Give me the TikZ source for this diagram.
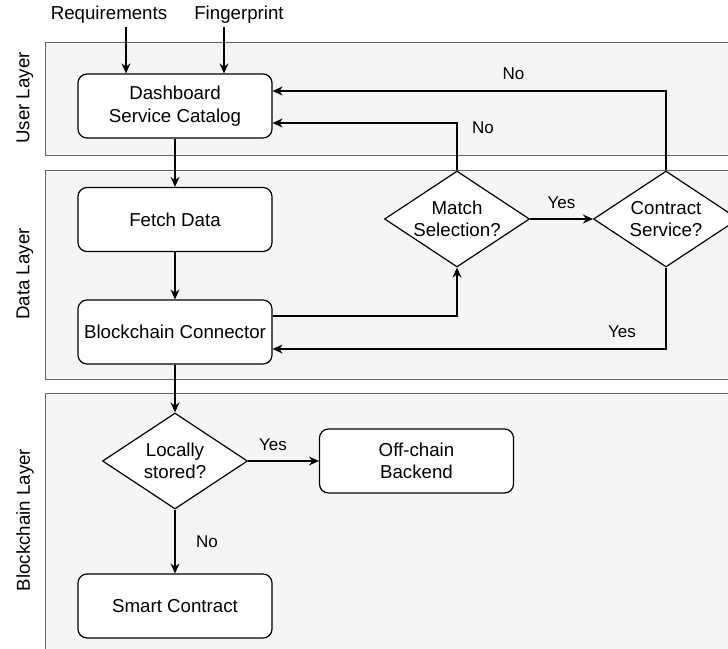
\documentclass[tikz,border=0pt]{standalone}
\usepackage{fontspec}
\setmainfont{Liberation Sans}
\usetikzlibrary{arrows.meta,shapes.geometric}
\definecolor{bandfill}{HTML}{F5F5F5}
\definecolor{bandline}{HTML}{666666}

\begin{document}
\begin{tikzpicture}[x=1pt,y=-1pt,
    band/.style={draw=bandline,fill=bandfill,line width=1pt},
    lay/.style={rotate=90,font=\fontsize{18.7}{22}\selectfont},
    txt/.style={font=\fontsize{18.7}{22}\selectfont},
    proc/.style={draw,fill=white,rounded corners=9pt,line width=1.2pt,minimum width=194pt,minimum height=64pt,inner sep=3pt,align=center,font=\fontsize{18.7}{22.5}\selectfont},
    decide/.style={draw,fill=white,diamond,line width=1.2pt,minimum width=145pt,minimum height=96pt,inner sep=-12pt,align=center,font=\fontsize{18.7}{22.5}\selectfont},
    lbl/.style={font=\fontsize{17}{20}\selectfont},
    arr/.style={-{Stealth[length=10pt,width=9pt]},line width=1.2pt}]
  \useasboundingbox (0,0) rectangle (728,648);
  \clip (0,0) rectangle (728,648);

  % Layers
  \draw[band] (45,42) rectangle (740,155);
  \draw[band] (45,170) rectangle (740,379);
  \draw[band] (45,393) rectangle (740,660);
  \node[lay] (userlay) at (25,98) {User Layer};
  \node[lay] (datalay) at (25,274) {Data Layer};
  \node[lay] (chainlay) at (25,520) {Blockchain Layer};

  % Inputs
  \node[txt] (req) at (109,15) {Requirements};
  \node[txt] (finger) at (239,15) {Fingerprint};

  % Steps
  \node[proc] (dash) at (175,106) {Dashboard\\Service Catalog};
  \node[proc] (fetch) at (175,219.5) {Fetch Data};
  \node[proc] (conn) at (175,332) {Blockchain Connector};
  \node[decide] (match) at (457,219) {Match\\Selection?};
  \node[decide] (contract) at (666,219) {Contract\\Service?};
  \node[decide] (local) at (175,461) {Locally\\stored?};
  \node[proc] (offchain) at (416.5,461) {Off-chain\\Backend};
  \node[proc] (smart) at (175,606) {Smart Contract};

  % Flow
  \draw[arr] ([xshift=17pt]req.south) -- ([xshift=-49pt]dash.north);
  \draw[arr] ([xshift=-15pt]finger.south) -- ([xshift=49pt]dash.north);
  \draw[arr] (dash) -- (fetch);
  \draw[arr] (fetch) -- (conn);
  \draw[arr] (conn) -- (local);
  \draw[arr] ([yshift=16pt]conn.east) -| (match.south);
  \draw[arr] (match) -- (contract) node[lbl,midway,yshift=16pt] {Yes};
  \draw[arr] (match.north) |- ([yshift=-17pt]dash.east)
    node[lbl,pos=0.5,xshift=26pt,yshift=-5pt] {No};
  \draw[arr] (contract.north) |- ([yshift=15pt]dash.east)
    node[lbl,pos=0.694,yshift=17pt] {No};
  \draw[arr] (contract.south) |- ([yshift=-17pt]conn.east)
    node[lbl,pos=0.556,yshift=17pt] {Yes};
  \draw[arr] (local) -- (offchain) node[lbl,pos=0.35,yshift=16pt] {Yes};
  \draw[arr] (local) -- (smart) node[lbl,midway,xshift=32pt] {No};
\end{tikzpicture}
\end{document}
